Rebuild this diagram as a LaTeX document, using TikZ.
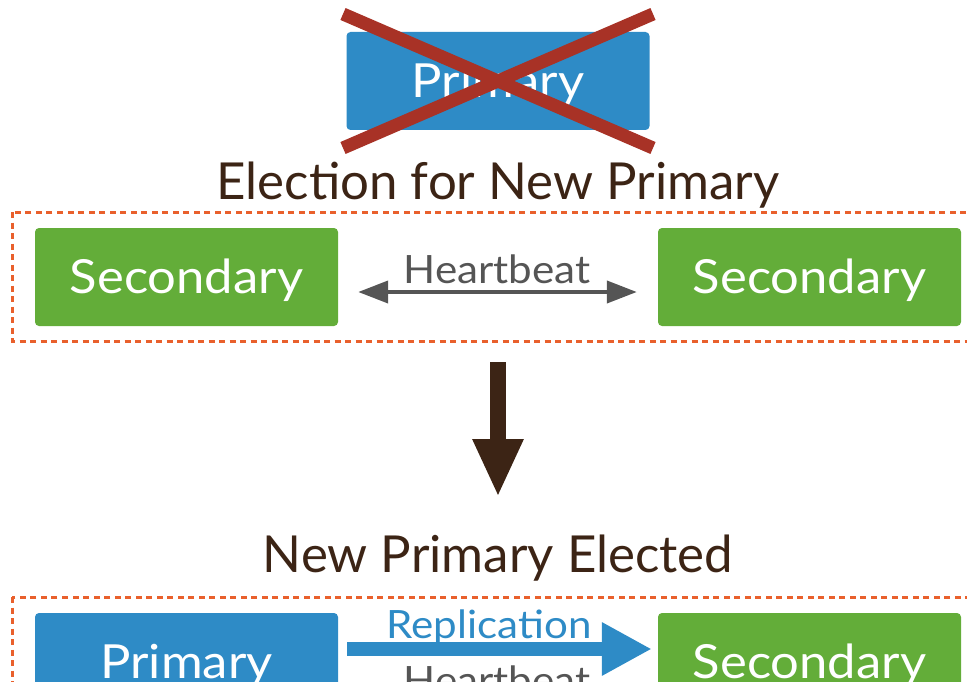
\documentclass[tikz,border=0pt]{standalone}
\usepackage{fontspec}
\setmainfont{Lato}
\newfontfamily\widefont[FakeStretch=1.08]{Lato}
\usetikzlibrary{arrows.meta}
\definecolor{pblue}{HTML}{2E8BC6}
\definecolor{sgreen}{HTML}{63AD39}
\definecolor{xred}{HTML}{A83226}
\definecolor{tbrown}{HTML}{3C2415}
\definecolor{hgray}{HTML}{555555}
\definecolor{dorange}{HTML}{E9602C}
\tikzset{
  x=1pt, y=-1pt,
  box/.style={rounded corners=4pt, minimum width=303pt, minimum height=98pt,
    inner sep=0pt, text height=33pt, text depth=0pt, text=white,
    font=\widefont\fontsize{47}{50}\selectfont},
  prim/.style={box, fill=pblue},
  sec/.style={box, fill=sgreen},
  title/.style={anchor=base, text=tbrown, inner sep=0pt, font=\fontsize{51}{54}\selectfont},
  lbl/.style={anchor=base, inner sep=0pt, font=\widefont\fontsize{39}{42}\selectfont},
  groupbox/.style={draw=dorange, line width=3pt, dash pattern=on 6pt off 4.5pt},
  hb/.style={draw=hgray, line width=4pt, {Triangle[width=22pt,length=30pt]}-{Triangle[width=22pt,length=30pt]}},
}
\begin{document}
\begin{tikzpicture}
\useasboundingbox (0,0) rectangle (967,682);
\clip (0,0) rectangle (967,682);
% top failed primary
\node[prim] (p0) at (498,81) {Primary};
\draw[xred, line width=13pt] (p0.center) ++(-155,-67) coordinate (x1) -- ++(310,134) coordinate (x2);
\draw[xred, line width=13pt] (p0.center) ++(155,-67) coordinate (x3) -- ++(-310,134) coordinate (x4);
\node[title] (t1) at (498,200) {Election for New Primary};
% election group
\draw[groupbox] (12,212) rectangle (990,341);
\node[sec] (s1) at (186.5,277) {Secondary};
\node[sec] (s2) at (809.5,277) {Secondary};
\draw[hb, shorten <=20pt, shorten >=21pt] (s1.east |- 0,292) coordinate (h1) -- (s2.west |- 0,292) coordinate (h2);
\node[lbl, text=hgray] (hbt) at (497,283) {Heartbeat};
% big arrow
\coordinate (a1) at (498,362);
\coordinate (a2) at (498,497);
\draw[tbrown, line width=16pt, -{Triangle[width=47pt,length=58pt]}] (a1) -- (a2);
\node[title] (t2) at (498,572) {New Primary Elected};
% new group
\draw[groupbox] (12,597) rectangle (990,760);
\node[prim] (p1) at (186.5,662) {Primary};
\node[sec] (s3) at (809.5,662) {Secondary};
\draw[pblue, line width=14pt, -{Triangle[width=50pt,length=50pt]}, shorten <=9pt, shorten >=6pt] (p1.east |- 0,649) coordinate (r1) -- (s3.west |- 0,649) coordinate (r2);
\node[lbl, text=pblue] (rep) at (489,638) {Replication};
\node[lbl, text=hgray] (hb2) at (497,694) {Heartbeat};
\end{tikzpicture}
\end{document}
